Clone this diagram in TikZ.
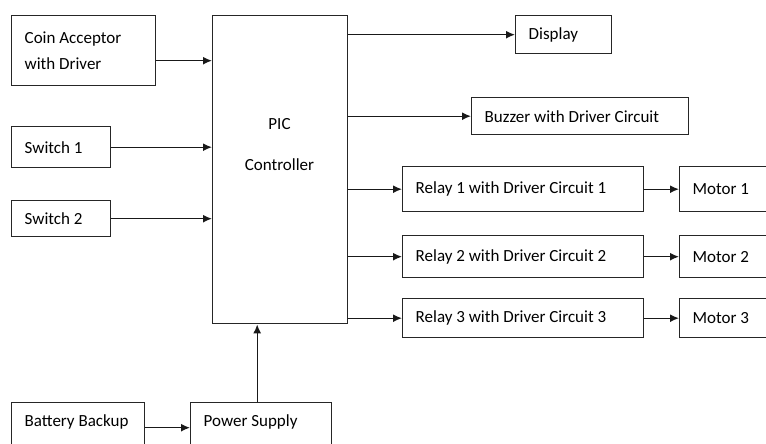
\documentclass[tikz,border=0pt]{standalone}
\usepackage{fontspec}
\setmainfont{Carlito}
\usetikzlibrary{arrows.meta,positioning,calc}

\begin{document}
\begin{tikzpicture}[x=1pt,y=-1pt,
  block/.style 2 args={draw=black!85,line width=1.4pt,anchor=north west,inner xsep=13pt,inner ysep=0pt,
    minimum width=#1,minimum height=#2,text width=#1-26pt,align=left,font=\fontsize{17}{26}\selectfont,
    execute at begin node={\spaceskip=0pt\xspaceskip=0pt}},
  arr/.style={line width=1.4pt,draw=black!90,-{Latex[length=9pt,width=8pt]}}]
\useasboundingbox (0,0) rectangle (766,444);
\clip (0,0) rectangle (766,444);
\node[block={144pt}{70pt}] (coin) at (11,15) {Coin Acceptor\\with Driver};
\node[block={99pt}{41pt}] (sw1) at (11,126) {Switch 1};
\node[block={99pt}{36pt}] (sw2) at (11,200) {Switch 2};
\node[block={135pt}{308pt}] (pic) at (212,15) {};
\node[align=center,font=\fontsize{17}{26}\selectfont] (pictxt) at (279.5,145) {PIC\\[15pt]Controller};
\node[block={96pt}{38pt}] (disp) at (515,15) {Display};
\node[block={217pt}{37pt}] (buzz) at (471,97) {Buzzer with Driver Circuit};
\node[block={241pt}{45pt}] (relay1) at (402,166) {Relay 1 with Driver Circuit 1};
\node[block={120pt}{45pt}] (motor1) at (679,166) {Motor 1};
\node[block={241pt}{42pt}] (relay2) at (402,235) {Relay 2 with Driver Circuit 2};
\node[block={120pt}{42pt}] (motor2) at (679,235) {Motor 2};
\node[block={241pt}{39pt}] (relay3) at (402,298) {Relay 3 with Driver Circuit 3};
\node[block={120pt}{39pt}] (motor3) at (679,298) {Motor 3};
\node[block={133pt}{0pt},inner ysep=12pt,text height=12pt,text depth=30pt] (bat) at (11,402) {Battery Backup};
\node[block={141pt}{0pt},inner ysep=12pt,text height=12pt,text depth=30pt] (power) at (190,402) {Power Supply};
\coordinate (coinout) at ([yshift=-10pt]coin.east);
\coordinate (psup) at ([xshift=-4pt]power.north);
\coordinate (batout) at ([yshift=8pt]bat.east);
\draw[arr] (coinout) -- (coinout -| pic.west);
\draw[arr] (sw1.east) -- (sw1.east -| pic.west);
\draw[arr] (sw2.east) -- (sw2.east -| pic.west);
\draw[arr] (pic.east |- disp.west) -- (disp.west);
\draw[arr] (pic.east |- buzz.west) -- (buzz.west);
\draw[arr] (pic.east |- relay1.west) -- (relay1.west);
\draw[arr] (pic.east |- relay2.west) -- (relay2.west);
\draw[arr] (pic.east |- relay3.west) -- (relay3.west);
\draw[arr] (relay1) -- (motor1);
\draw[arr] (relay2) -- (motor2);
\draw[arr] (relay3) -- (motor3);
\draw[arr] (psup) -- (psup |- pic.south);
\draw[arr] (batout) -- (batout -| power.west);
\end{tikzpicture}
\end{document}
